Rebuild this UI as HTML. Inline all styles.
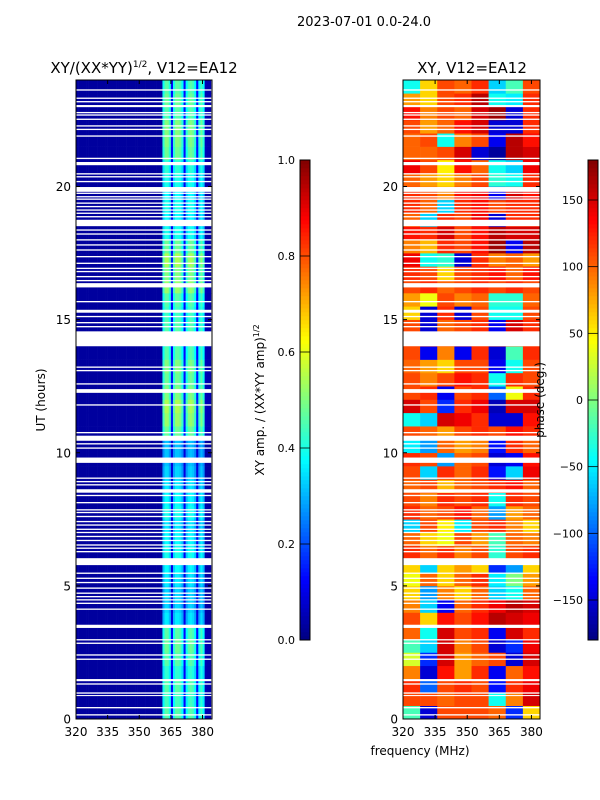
<!DOCTYPE html>
<html><head><meta charset="utf-8">
<style>
html,body{margin:0;padding:0;background:#fff;}
svg{display:block;font-family:"DejaVu Sans","Liberation Sans",sans-serif;}
</style></head>
<body>
<svg id="fig" width="600" height="800" viewBox="0 0 600 800" xmlns="http://www.w3.org/2000/svg">
<text x="364" y="26" font-size="13" text-anchor="middle">2023-07-01 0.0-24.0</text>
<text x="144" y="73" font-size="15" text-anchor="middle">XY/(XX*YY)<tspan font-size="9" dy="-6">1/2</tspan><tspan dy="6">, V12=EA12</tspan></text>
<text x="472" y="73" font-size="15" text-anchor="middle">XY, V12=EA12</text>
<text x="0" y="0" font-size="12" text-anchor="middle" transform="translate(45,400) rotate(-90)">UT (hours)</text>
<text x="420" y="755" font-size="12" text-anchor="middle">frequency (MHz)</text>
<text x="0" y="0" font-size="12" text-anchor="middle" transform="translate(264,400) rotate(-90)">XY amp. / (XX*YY amp)<tspan font-size="8" dy="-5">1/2</tspan></text>
<g id="left"></g>
<g id="right"></g>
<g id="cb"></g>
<g id="axes"></g>
<text x="0" y="0" font-size="12" text-anchor="middle" transform="translate(544,400) rotate(-90)">phase (deg.)</text>
</svg>
<script>
// amplitude column profile, 1 MHz bins from 320 to 384
const ampProfile = [0.03,0.03,0.03,0.03,0.03,0.03,0.03,0.03,0.03,0.03,0.03,0.03,0.03,0.03,0.03,0.03,0.03,0.03,0.03,0.03,0.03,0.03,0.03,0.03,0.03,0.03,0.03,0.03,0.03,0.03,0.03,0.03,0.03,0.03,0.03,0.03,0.03,0.03,0.03,0.03,0.03,0.35,0.42,0.42,0.36,0.12,0.36,0.42,0.42,0.40,0.34,0.12,0.34,0.40,0.42,0.40,0.34,0.12,0.34,0.40,0.34,0.05,0.04,0.04];
// amplitude row gains, 0.5 h bins from 0 to 24
const ampRowGain = [1.1,1.05,1.1,1.0,1.1,1.15,1.1,0.85,0.8,0.8,0.85,0.9,0.95,0.9,0.85,0.95,0.9,0.85,0.8,0.75,0.75,1.15,1.25,1.3,1.2,1.15,1.2,1.1,1.0,1.1,1.05,1.1,1.25,1.2,1.3,1.15,0.95,0.9,0.95,0.9,0.95,1.0,1.15,1.2,1.2,1.1,1.15,1.1];
// phase (deg), rows 0.5 h from 0 to 24, cols 8 MHz from 320 to 384
const phaseRows = [
[-20,-150,110,110,110,100,-120,60],[110,110,100,110,110,-40,90,150],[120,-100,110,120,110,-130,120,140],[90,-150,130,80,120,-140,100,130],
[30,-120,150,80,100,110,-150,150],[-20,-60,150,90,110,-150,-120,140],[100,-40,150,110,120,-140,150,120],[110,60,130,110,130,160,150,140],
[90,-60,-140,100,120,140,160,150],[60,-80,90,60,100,-60,-40,100],[40,100,60,100,120,-50,0,80],[60,-60,60,80,60,-120,-80,60],
[120,100,120,90,110,-30,110,120],[100,60,40,110,80,-20,100,90],[-60,110,50,-50,110,120,90,60],[120,100,110,130,100,-80,80,100],
[110,90,120,110,120,-40,120,110],[100,110,70,100,110,120,130,100],[110,-60,120,100,120,-130,-60,140],[120,110,-80,100,110,-150,-140,130],
[-50,-80,100,80,90,-130,120,100],[110,100,80,110,120,110,130,120],[-40,-60,150,140,120,-150,-150,130],[150,110,-120,120,140,-160,150,150],
[110,120,-140,110,120,-100,40,120],[110,90,110,130,120,-40,120,110],[100,80,60,110,110,-140,-40,110],[110,-140,90,-140,120,-150,-20,120],
[110,110,110,110,110,110,110,110],[110,-150,100,110,120,-140,150,120],[60,-150,120,-150,110,-40,-40,110],[80,40,110,90,100,-30,-30,100],
[110,120,100,110,120,110,120,110],[120,110,60,110,120,130,100,130],[140,-40,-30,-150,120,90,100,80],[90,70,120,110,130,170,-140,160],
[130,120,150,110,130,160,150,150],[100,-60,120,110,140,-150,120,120],[120,100,-60,120,130,110,120,120],[120,110,90,130,140,-140,150,130],
[100,80,60,90,110,-30,-40,120],[140,110,50,130,100,-40,-60,140],[100,100,110,150,-150,-170,160,150],[100,110,-40,90,110,-140,160,130],
[110,80,100,130,150,-150,-150,120],[130,90,110,100,150,170,-150,120],[80,60,110,120,160,-40,-50,120],[-40,60,110,100,120,-60,-20,110]];
// flagged time intervals (hours): [start, end]
const flagStart = [0.13,0.40,0.86,0.95,1.29,1.42,2.22,2.38,2.82,2.95,3.42,4.10,4.32,4.45,4.57,4.70,4.89,5.10,5.26,5.45,5.78,6.26,6.39,6.51,6.68,6.83,6.98,7.10,7.26,7.39,7.58,7.73,7.83,8.10,8.37,8.50,8.77,8.89,9.02,9.62,10.15,10.31,10.45,10.73,11.77,12.25,12.56,13.06,13.19,14.0,14.71,14.86,15.09,15.26,15.65,16.21,16.44,16.59,16.78,16.90,17.09,17.34,17.59,17.78,17.97,18.19,18.34,18.51,18.84,18.97,19.09,19.22,19.35,19.50,19.59,19.72,19.80,20.16,20.34,20.45,20.80,21.03,21.87,22.12,22.25,22.50,22.66,22.75,22.98,23.16,23.29,23.60];
const flagEnd   = [0.18,0.45,0.90,1.00,1.34,1.50,2.27,2.43,2.87,3.00,3.54,4.15,4.37,4.50,4.62,4.75,4.94,5.15,5.31,5.50,6.04,6.31,6.44,6.56,6.73,6.88,7.03,7.15,7.31,7.44,7.63,7.78,7.88,8.15,8.42,8.63,8.82,8.94,9.07,9.82,10.20,10.36,10.64,10.78,11.82,12.39,12.61,13.11,13.24,14.56,14.76,14.91,15.14,15.37,15.70,16.37,16.49,16.64,16.83,16.95,17.14,17.39,17.64,17.83,18.02,18.24,18.39,18.75,18.89,19.02,19.14,19.27,19.40,19.55,19.64,19.77,19.98,20.21,20.39,20.50,20.92,21.08,21.92,22.17,22.30,22.55,22.71,22.80,23.06,23.21,23.34,23.65];
const xTicks = [320,335,350,365,380];
const yTicks = [0,5,10,15,20];
const ampCbTicks = [0.0,0.2,0.4,0.6,0.8,1.0];
const phaseCbTicks = [-150,-100,-50,0,50,100,150];

const NS='http://www.w3.org/2000/svg';
const Y0=719, Y1=80, TMAX=24;
const yScale = t => Y0 - (t/TMAX)*(Y0-Y1);
const L = {x0:76, x1:212, f0:320, f1:384.5};
const R = {x0:403, x1:540, f0:320, f1:384};
const xScale = (p,f) => p.x0 + (f-p.f0)/(p.f1-p.f0)*(p.x1-p.x0);
function jet(v){v=Math.max(0,Math.min(1,v));const c=x=>Math.round(255*Math.max(0,Math.min(1,1.5-Math.abs(x))));return `rgb(${c(4*v-3)},${c(4*v-2)},${c(4*v-1)})`;}
function mk(tag,attrs,parent){const e=document.createElementNS(NS,tag);for(const k in attrs)e.setAttribute(k,attrs[k]);parent.appendChild(e);return e;}

const gl=document.getElementById('left'), gr=document.getElementById('right'), gc=document.getElementById('cb'), ga=document.getElementById('axes');
for(let r=0;r<ampRowGain.length;r++){
  const ya=yScale((r+1)*0.5), yb=yScale(r*0.5);
  for(let c=0;c<ampProfile.length;c++){
    const xa=xScale(L,320+c), xb=Math.min(L.x1,xScale(L,321+c));
    const v=c<41?ampProfile[c]:ampProfile[c]*ampRowGain[r];
    const e=mk('rect',{x:xa,y:ya,width:xb-xa+0.3,height:yb-ya+0.3,fill:jet(v)},gl);
    
    
  }
}
for(let r=0;r<phaseRows.length;r++){
  const ya=yScale((r+1)*0.5), yb=yScale(r*0.5);
  for(let c=0;c<phaseRows[r].length;c++){
    const xa=xScale(R,320+8*c), xb=xScale(R,328+8*c);
    const e=mk('rect',{x:xa,y:ya,width:xb-xa+0.3,height:yb-ya+0.3,fill:jet((phaseRows[r][c]+180)/360)},gr);
    
    
  }
}
for(let i=0;i<flagStart.length;i++){
  const ya=yScale(flagEnd[i]), yb=yScale(flagStart[i]);
  for(const [p,g] of [[L,gl],[R,gr]]){
    const e=mk('rect',{x:p.x0,y:ya,width:p.x1-p.x0,height:Math.max(1,yb-ya),fill:'#fff'},g);
    
    
  }
}
for(const p of [L,R]){
  const f=mk('rect',{x:p.x0,y:Y1,width:p.x1-p.x0,height:Y0-Y1,fill:'none',stroke:'#000','stroke-width':1},ga);
  
  
  for(const t of xTicks){
    const x=xScale(p,t);
    mk('line',{x1:x,y1:Y0,x2:x,y2:Y0-4,stroke:'#000'},ga);
    mk('line',{x1:x,y1:Y1,x2:x,y2:Y1+4,stroke:'#000'},ga);
    const tx=mk('text',{x:x,y:Y0+17,'font-size':12,'text-anchor':'middle'},ga);
    tx.textContent=t;
    
    
  }
  for(const t of yTicks){
    const y=yScale(t);
    mk('line',{x1:p.x0,y1:y,x2:p.x0+4,y2:y,stroke:'#000'},ga);
    mk('line',{x1:p.x1,y1:y,x2:p.x1-4,y2:y,stroke:'#000'},ga);
    const tx=mk('text',{x:p.x0-5,y:y+4.5,'font-size':12,'text-anchor':'end'},ga);
    tx.textContent=t;
    
    
  }
}
function colorbar(x0,ticks,vmin,vmax,fmt,name){
  const top=160,bot=640,w=10,n=120;
  for(let i=0;i<n;i++){
    const y=bot-(i+1)*(bot-top)/n;
    const e=mk('rect',{x:x0,y:y,width:w,height:(bot-top)/n+0.3,fill:jet((i+0.5)/n)},gc);
    
    
  }
  const fr=mk('rect',{x:x0,y:top,width:w,height:bot-top,fill:'none',stroke:'#000','stroke-width':1},gc);
  
  
  for(const t of ticks){
    const y=bot-(t-vmin)/(vmax-vmin)*(bot-top);
    mk('line',{x1:x0,y1:y,x2:x0+w,y2:y,stroke:'#000','stroke-width':0.8},gc);
    const tx=mk('text',{x:x0-5,y:y+4,'font-size':11,'text-anchor':'end'},gc);
    tx.textContent=fmt(t);
    
    
  }
}
colorbar(300,ampCbTicks,0,1,t=>t.toFixed(1),'amp-colorbar');
colorbar(588,phaseCbTicks,-180,180,t=>t<0?'\u2212'+(-t):String(t),'phase-colorbar');
</script>
</body></html>
